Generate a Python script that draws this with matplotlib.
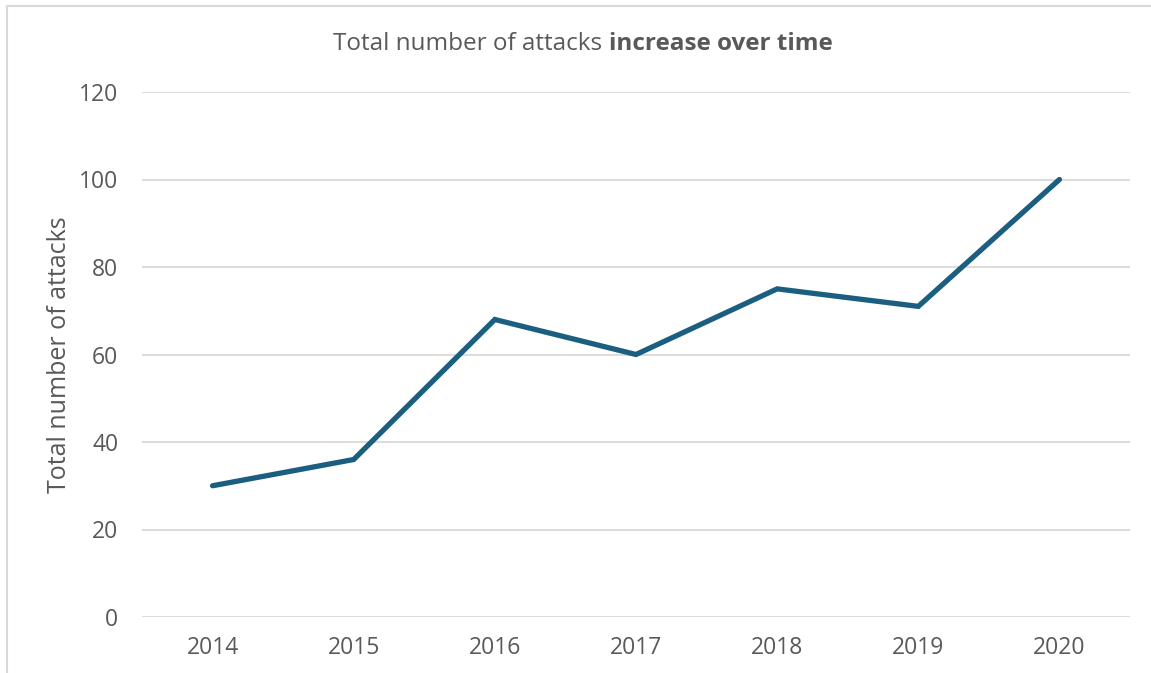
import matplotlib.pyplot as plt
from matplotlib.patches import Rectangle

years = ['2014', '2015', '2016', '2017', '2018', '2019', '2020']
attacks = [30, 36, 68, 60, 75, 71, 100]
y_ticks = [0, 20, 40, 60, 80, 100, 120]

text_color = '#595959'
line_color = '#1b5e80'
grid_color = '#d9d9d9'

plt.rcParams['font.family'] = ['Open Sans', 'DejaVu Sans']

fig = plt.figure(figsize=(11.51, 6.73), dpi=100)
ax = fig.add_axes([142 / 1151, 1 - 617 / 673, 988 / 1151, 525 / 673])

x = list(range(len(years)))
ax.plot(x, attacks, color=line_color, linewidth=3.8, solid_capstyle='round',
        solid_joinstyle='miter', zorder=3)

ax.set_xlim(-0.5, len(years) - 0.5)
ax.set_ylim(0, 120)
ax.set_yticks(y_ticks)
ax.set_xticks(x)
ax.set_xticklabels(years)
ax.grid(axis='y', color=grid_color, linewidth=1.3)
ax.set_axisbelow(True)
for s in ax.spines.values():
    s.set_visible(False)
ax.tick_params(axis='both', length=0, labelsize=16.5, labelcolor=text_color)
ax.tick_params(axis='y', pad=17)
ax.tick_params(axis='x', pad=14)
ax.set_ylabel('Total number of attacks', fontsize=18, color=text_color, labelpad=5)

# title with bold ending, centred as a whole
renderer = fig.canvas.get_renderer()
t1 = fig.text(0, 1 - 44 / 673, 'Total number of attacks ', fontsize=17.5,
              color=text_color, va='center')
t2 = fig.text(0, 1 - 44 / 673, 'increase over time', fontsize=17.5,
              color=text_color, va='center', fontweight='bold')
w1 = t1.get_window_extent(renderer).width
w2 = t2.get_window_extent(renderer).width
x0 = 583 - (w1 + w2) / 2
t1.set_x(x0 / 1151)
t2.set_x((x0 + w1) / 1151)

# chart border (runs off right and bottom edges)
fig.patches.append(Rectangle((7 / 1151, -0.1), 1.2, 1 - 6 / 673 + 0.1,
                             transform=fig.transFigure, fill=False,
                             edgecolor=grid_color, linewidth=1.5))

fig.savefig('out.png', dpi=100)
